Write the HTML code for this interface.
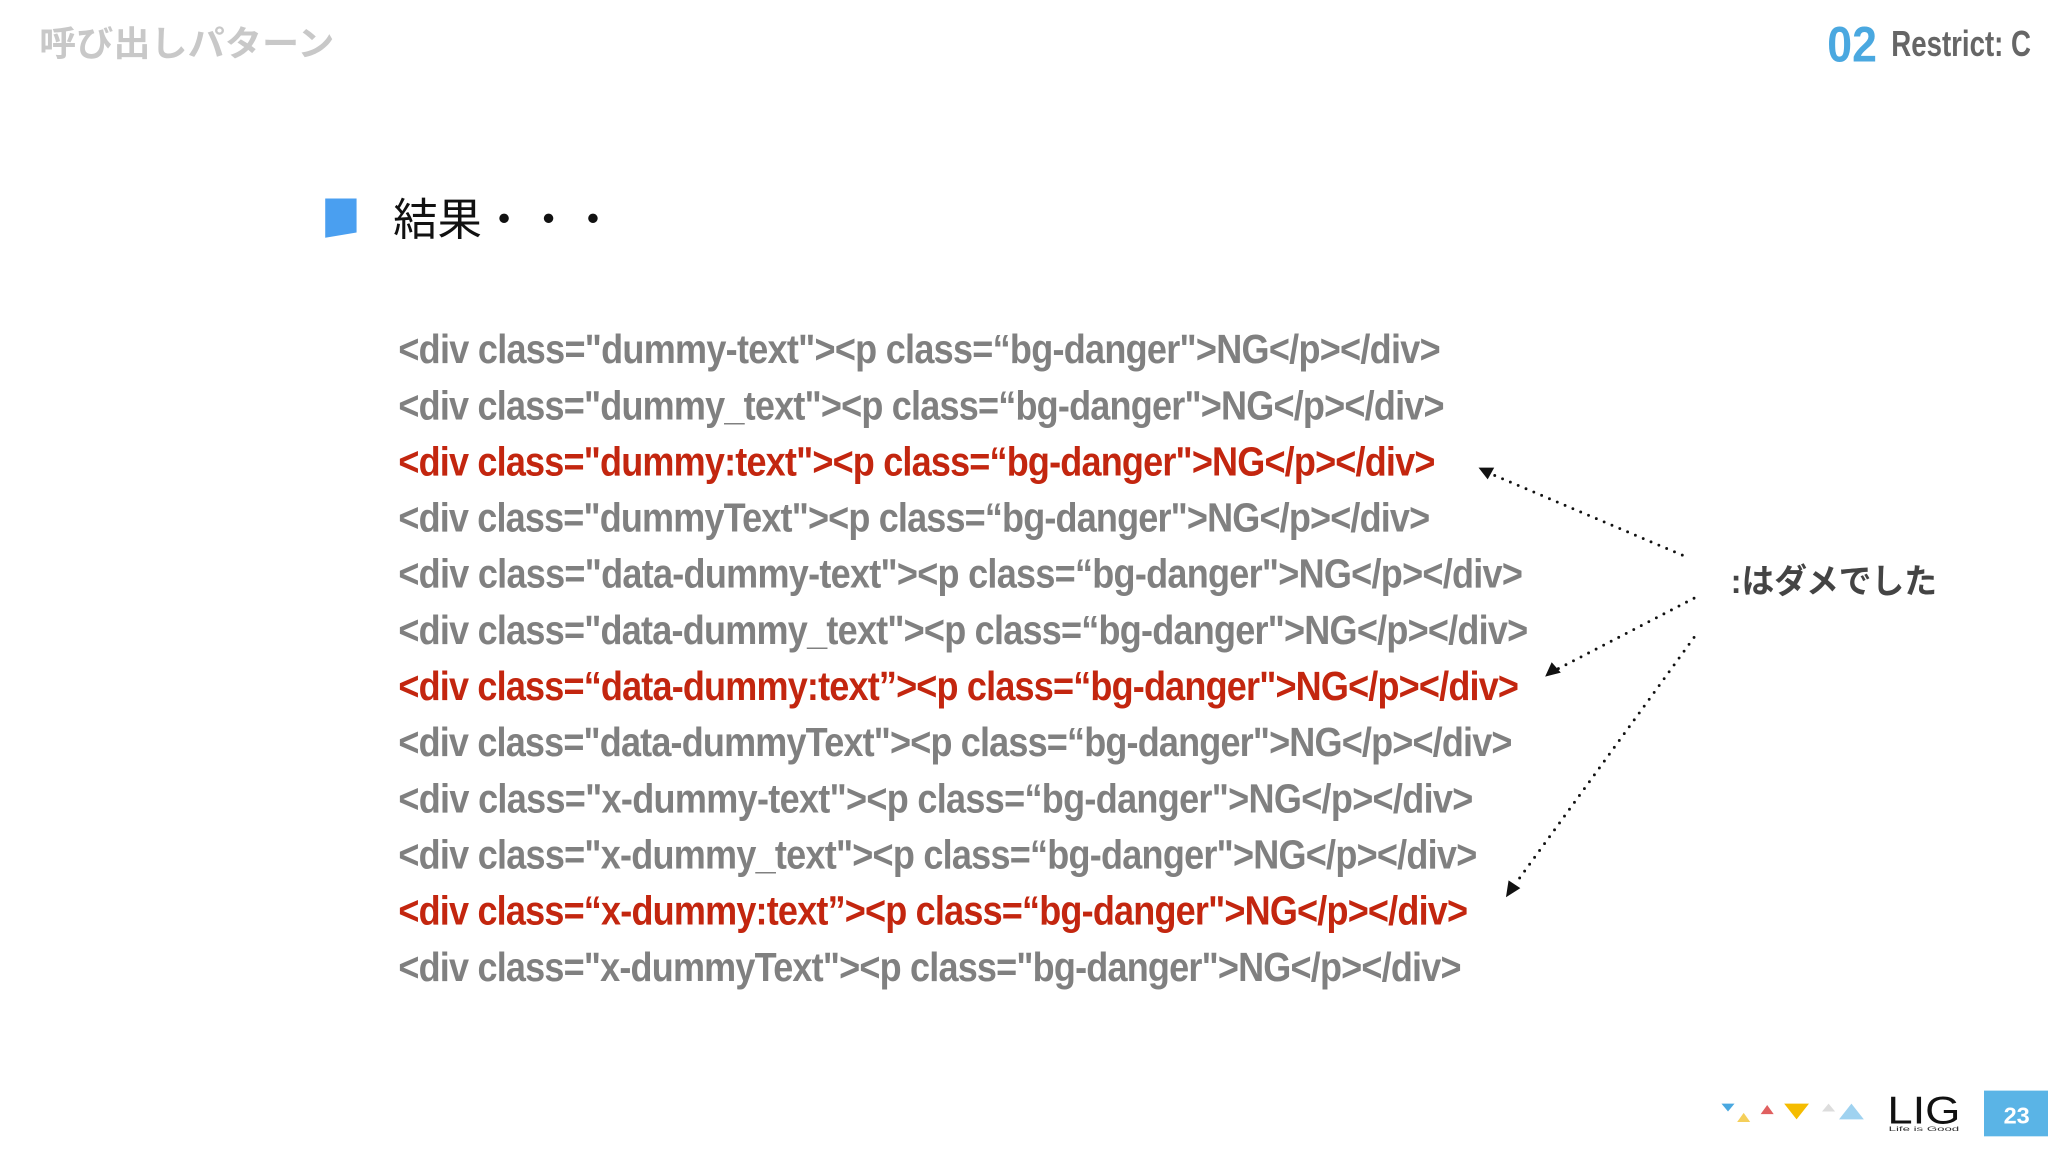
<!DOCTYPE html>
<html><head><meta charset="utf-8"><style>html,body{margin:0;padding:0;background:#fff}svg{display:block}</style></head>
<body>
<svg width="2048" height="1152" viewBox="0 0 1568 882" xmlns="http://www.w3.org/2000/svg">
<rect width="1568" height="882" fill="#fff"/>
<text x="30" y="43" font-family="Liberation Sans, Noto Sans CJK JP, sans-serif" font-weight="bold" font-size="27" fill="#c8c8c8" textLength="226" lengthAdjust="spacingAndGlyphs">呼び出しパターン</text>
<text x="1399" y="47" font-family="Liberation Sans, sans-serif" font-weight="bold" font-size="38" fill="#4aa8e0" textLength="38" lengthAdjust="spacingAndGlyphs">02</text>
<text x="1448" y="43" font-family="Liberation Sans, sans-serif" font-weight="bold" font-size="28" fill="#666" textLength="107" lengthAdjust="spacingAndGlyphs">Restrict: C</text>
<path d="M249 152 L273 152 L273 178 L249 182 Z" fill="#4a9ff0"/>
<text x="301" y="180" font-family="Liberation Sans, Noto Sans CJK JP, sans-serif" font-size="34" fill="#111">結果・・・</text>
<g transform="scale(0.89,1)" font-family="Liberation Sans, sans-serif" font-weight="bold" font-size="31" lengthAdjust="spacing">
<text x="342.7" y="278" fill="#808080" textLength="896.6">&lt;div class="dummy-text"&gt;&lt;p class=“bg-danger"&gt;NG&lt;/p&gt;&lt;/div&gt;</text>
<text x="342.7" y="321" fill="#808080" textLength="900">&lt;div class="dummy_text"&gt;&lt;p class=“bg-danger"&gt;NG&lt;/p&gt;&lt;/div&gt;</text>
<text x="342.7" y="364" fill="#c3260f" textLength="892.1">&lt;div class="dummy:text"&gt;&lt;p class=“bg-danger"&gt;NG&lt;/p&gt;&lt;/div&gt;</text>
<text x="342.7" y="407" fill="#808080" textLength="887.6">&lt;div class="dummyText"&gt;&lt;p class=“bg-danger"&gt;NG&lt;/p&gt;&lt;/div&gt;</text>
<text x="342.7" y="450" fill="#808080" textLength="967.4">&lt;div class="data-dummy-text"&gt;&lt;p class=“bg-danger"&gt;NG&lt;/p&gt;&lt;/div&gt;</text>
<text x="342.7" y="493" fill="#808080" textLength="971.9">&lt;div class="data-dummy_text"&gt;&lt;p class=“bg-danger"&gt;NG&lt;/p&gt;&lt;/div&gt;</text>
<text x="342.7" y="536" fill="#c3260f" textLength="964">&lt;div class=“data-dummy:text”&gt;&lt;p class=“bg-danger"&gt;NG&lt;/p&gt;&lt;/div&gt;</text>
<text x="342.7" y="579" fill="#808080" textLength="958.4">&lt;div class="data-dummyText"&gt;&lt;p class=“bg-danger"&gt;NG&lt;/p&gt;&lt;/div&gt;</text>
<text x="342.7" y="622" fill="#808080" textLength="924.7">&lt;div class="x-dummy-text"&gt;&lt;p class=“bg-danger"&gt;NG&lt;/p&gt;&lt;/div&gt;</text>
<text x="342.7" y="665" fill="#808080" textLength="928.1">&lt;div class="x-dummy_text"&gt;&lt;p class=“bg-danger"&gt;NG&lt;/p&gt;&lt;/div&gt;</text>
<text x="342.7" y="708" fill="#c3260f" textLength="920.2">&lt;div class=“x-dummy:text”&gt;&lt;p class=“bg-danger"&gt;NG&lt;/p&gt;&lt;/div&gt;</text>
<text x="342.7" y="751" fill="#808080" textLength="914.6">&lt;div class="x-dummyText"&gt;&lt;p class="bg-danger"&gt;NG&lt;/p&gt;&lt;/div&gt;</text>
</g>
<g stroke="#111" stroke-width="2.2" stroke-linecap="round" stroke-dasharray="0 6.5" fill="none">
<line x1="1288" y1="425" x2="1142" y2="363"/>
<line x1="1297" y1="458" x2="1193" y2="512"/>
<line x1="1297" y1="488" x2="1160" y2="677"/>
</g>
<g fill="#111">
<polygon points="1132,358 1144,358 1139,367"/>
<polygon points="1183,518 1188,507 1195,515"/>
<polygon points="1153,687 1155,674 1164,680"/>
</g>
<text x="1325" y="454" font-family="Liberation Sans, Noto Sans CJK JP, sans-serif" font-weight="bold" font-size="26" fill="#444" textLength="158" lengthAdjust="spacingAndGlyphs">:はダメでした</text>
<polygon points="1318,845 1328,845 1323,851" fill="#4aa8e0"/>
<polygon points="1330,859 1340,859 1335,852" fill="#f5cf5a"/>
<polygon points="1348,853 1358,853 1353,846" fill="#e06060"/>
<polygon points="1366,845 1385,845 1375.5,857" fill="#f5bc00"/>
<polygon points="1395,851 1405,851 1400,845" fill="#ddd"/>
<polygon points="1408,857 1427,857 1417.5,845" fill="#9fd2f0"/>
<text x="1445" y="860" font-family="Liberation Sans, sans-serif" font-size="30" fill="#111" textLength="56" lengthAdjust="spacingAndGlyphs">LIG</text>
<text x="1446" y="866" font-family="Liberation Sans, sans-serif" font-size="5" fill="#333" textLength="54" lengthAdjust="spacingAndGlyphs">Life is Good</text>
<rect x="1519" y="835" width="49" height="35" fill="#5ab4e6"/>
<text x="1544" y="860" text-anchor="middle" font-family="Liberation Sans, sans-serif" font-weight="bold" font-size="18" fill="#fff">23</text>
</svg>
</body></html>
